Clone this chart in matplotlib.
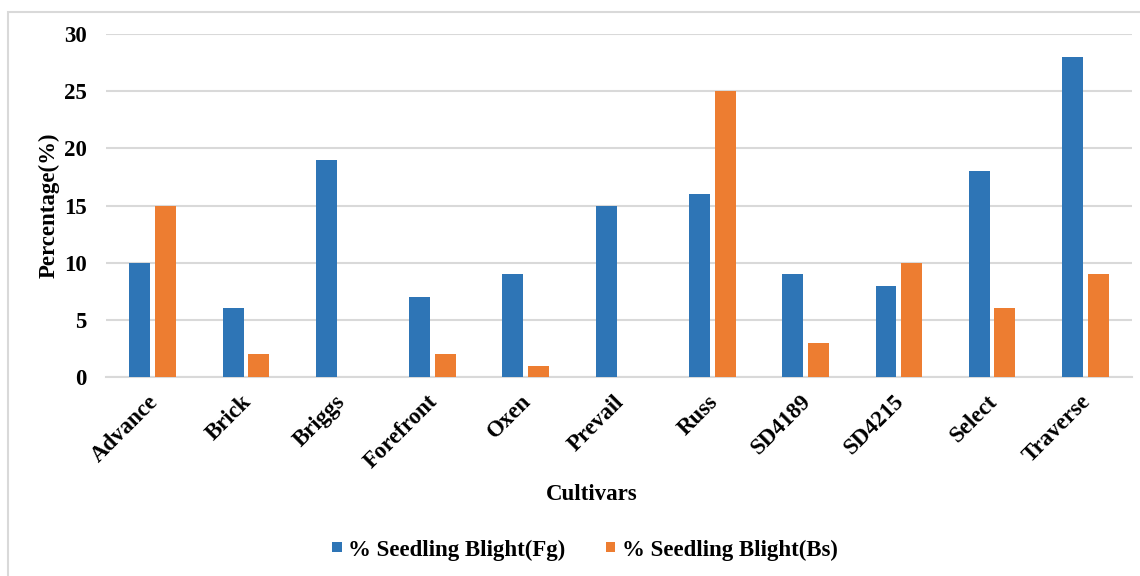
import matplotlib
matplotlib.use("Agg")
import matplotlib.pyplot as plt
from matplotlib.patches import Rectangle
from matplotlib.transforms import ScaledTranslation
import numpy as np

cultivars = ["Advance", "Brick", "Briggs", "Forefront", "Oxen", "Prevail",
             "Russ", "SD4189", "SD4215", "Select", "Traverse"]
blight_fg = [10, 6, 19, 7, 9, 15, 16, 9, 8, 18, 28]
blight_bs = [15, 2, 0, 2, 1, 0, 25, 3, 10, 6, 9]
y_ticks = [0, 5, 10, 15, 20, 25, 30]

plt.rcParams["font.family"] = ["Liberation Serif", "DejaVu Serif"]
plt.rcParams["font.weight"] = "bold"

W, H = 1140, 576
fig = plt.figure(figsize=(W / 100, H / 100), dpi=100)
ax = fig.add_axes([106 / W, 1 - 377 / H, (1132 - 106) / W, (377 - 34) / H])

x = np.arange(len(cultivars))
bw = 0.225
gap = 0.05
blue = "#2E75B6"
orange = "#ED7D31"
ax.bar(x - (bw + gap) / 2, blight_fg, width=bw, color=blue, zorder=3,
       label="% Seedling Blight(Fg)")
ax.bar(x + (bw + gap) / 2, blight_bs, width=bw, color=orange, zorder=3,
       label="% Seedling Blight(Bs)")

fs = 16.5
ax.set_xlim(-0.5, len(cultivars) - 0.5)
ax.set_ylim(0, 30)
ax.set_yticks(y_ticks)
ax.set_yticklabels([str(t) for t in y_ticks], fontsize=fs, fontweight="bold")
ax.yaxis.grid(True, color="#D9D9D9", linewidth=1.5, zorder=0)
ax.set_axisbelow(True)
for s in ["top", "right", "left"]:
    ax.spines[s].set_visible(False)
ax.spines["bottom"].set_color("#D9D9D9")
ax.spines["bottom"].set_linewidth(1.5)
ax.tick_params(axis="both", length=0)
ax.tick_params(axis="y", pad=14)
ax.tick_params(axis="x", pad=8)

ax.set_xticks(x)
ax.set_xticklabels(cultivars, rotation=45, ha="right", va="top",
                   rotation_mode="anchor", fontsize=fs, fontweight="bold")
shift = ScaledTranslation(-5 / 100, -3 / 100, fig.dpi_scale_trans)
for lbl in ax.get_xticklabels():
    lbl.set_transform(lbl.get_transform() + shift)

fig.text(49 / W, 1 - 205 / H, "Percentage(%)", ha="center", va="center",
         rotation=90, fontsize=fs, fontweight="bold")
fig.text(592 / W, 1 - 495 / H, "Cultivars", ha="center", va="center",
         fontsize=fs, fontweight="bold")

fig.legend(loc="center", bbox_to_anchor=(585 / W, 1 - 550 / H), ncol=2,
           frameon=False, prop={"size": fs, "weight": "bold"},
           handlelength=0.42, handleheight=0.3, handletextpad=0.3,
           columnspacing=1.75)

fig.patches.append(Rectangle((8 / W, -0.1), 1.2, (1 - 12 / H) + 0.1,
                             transform=fig.transFigure, fill=False,
                             edgecolor="#D9D9D9", linewidth=1.5, clip_on=False))

fig.savefig("out.png", dpi=100)
